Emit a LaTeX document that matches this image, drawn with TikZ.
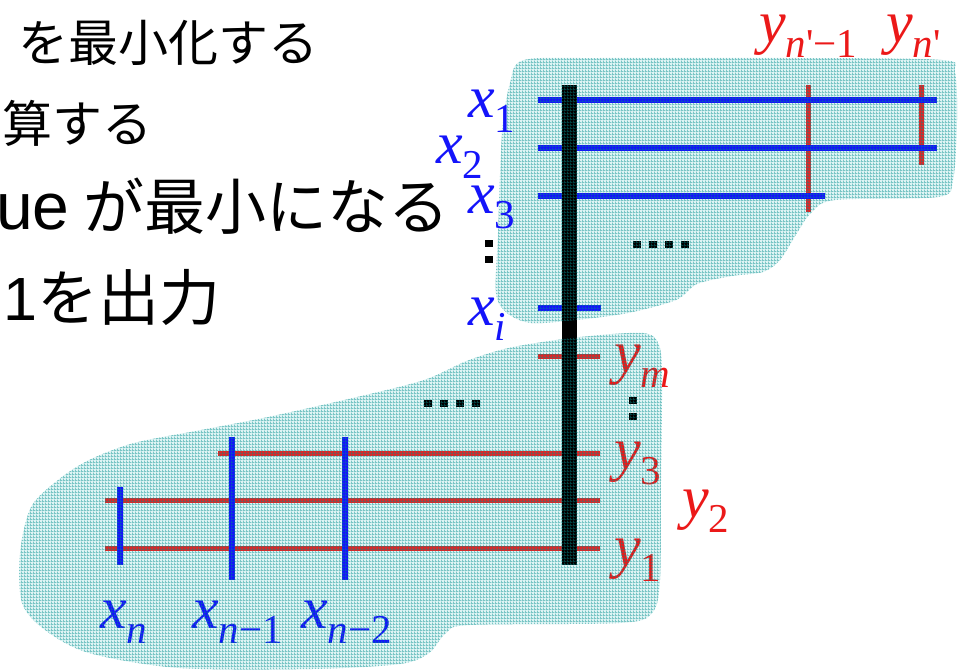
\documentclass[tikz,border=0pt]{standalone}
\usepackage{fontspec}
\setmainfont{Liberation Serif}
\newfontfamily\jpfont{Noto Sans CJK JP}
\newfontfamily\latinsans{Liberation Sans}
\usetikzlibrary{patterns.meta}

\definecolor{xblue}{RGB}{20,20,250}
\definecolor{yred}{RGB}{235,25,25}
\definecolor{wred}{RGB}{220,40,40}
\definecolor{meshbase}{RGB}{222,244,244}
\definecolor{meshline}{RGB}{0,140,140}

% fine teal mesh laid over both regions
\tikzdeclarepattern{
  name=mesh,
  type=uncolored,
  bottom left={(0pt,0pt)},
  top right={(3pt,3pt)},
  tile size={(3pt,3pt)},
  code={
    \fill (0pt,0pt) rectangle (3pt,1pt);
    \fill (0pt,0pt) rectangle (1pt,3pt);
  }
}

% variable with subscript
\newcommand{\sublab}[2]{\textit{#1}\raisebox{-15pt}{\fontsize{41}{41}\selectfont #2}}

\begin{document}
\begin{tikzpicture}[x=1pt,y=-1pt,
  lab/.style={anchor=base west,inner sep=0pt,font=\fontsize{60}{60}\selectfont},
  jtext/.style={anchor=base west,inner sep=0pt},
  xwire/.style={xblue,line width=6pt},
  ywire/.style={wred,line width=5pt},
  meshfill/.style={pattern=mesh,pattern color=meshline,fill opacity=0.45}]

\useasboundingbox (0,0) rectangle (963,669);

% Region outlines
\path[save path=\upperblob] plot[smooth cycle,tension=0.5] coordinates {
  (524,60) (600,58) (800,58) (942,60) (955,72) (957,120) (953,180)
  (938,197) (835,200) (811,213) (797,233) (780,260) (763,272) (732,276)
  (697,284) (676,300) (628,313) (576,320) (531,323) (507,313) (496,293)
  (498,233) (502,133) (510,83)};
\path[save path=\lowerblob] plot[smooth cycle,tension=0.5] coordinates {
  (643,333) (659,345) (662,380) (661,480) (660,580) (652,613) (620,623)
  (470,625) (446,633) (429,653) (400,664) (312,669) (179,668) (89,653)
  (45,630) (22,603) (20,553) (31,507) (58,480) (89,460) (134,443)
  (201,430) (268,417) (357,397) (424,380) (469,360) (513,347) (580,337)};

\fill[meshbase,use path=\upperblob];
\fill[meshbase,use path=\lowerblob];

% Upper region: red wires, then blue wires
\foreach \xx/\ye in {808/212,921/165}
  \draw[ywire] (\xx,85) -- (\xx,\ye);
\foreach \yy/\xe in {100/937,148/937,196/825,308/601}
  \draw[xwire] (538,\yy) -- (\xe,\yy);

% Lower region: red wires, then blue wires
\foreach \yy/\xs in {356/538,453/218,500/105,548/105}
  \draw[ywire] (\xs,\yy) -- (600,\yy);
\foreach \xx/\ys/\ye in {120/487/565,232/437/580,345/437/580}
  \draw[xwire] (\xx,\ys) -- (\xx,\ye);

% Shared bar
\fill (562,85) rectangle (577,565);

% Dots
\foreach \xx in {637,653,669,685}
  \fill (\xx-4,241) rectangle ++(8,7);
\foreach \xx in {428,444,460,476}
  \fill (\xx-4,400) rectangle ++(8,7);
\foreach \yy in {397,413}
  \fill (629,\yy) rectangle ++(8,7);

% Labels under the mesh
\node[lab,text=yred] (ym) at (614,372) {\sublab{y}{\textit{m}}};
\node[lab,text=yred] (y3) at (614,469) {\sublab{y}{3}};
\node[lab,text=yred] (y1) at (614,566) {\sublab{y}{1}};
\node[lab,text=xblue] (xn) at (100,628) {\sublab{x}{\textit{n}}};
\node[lab,text=xblue] (xn1) at (192,628) {\sublab{x}{\textit{n}−1}};
\node[lab,text=xblue] (xn2) at (301,628) {\sublab{x}{\textit{n}−2}};

% Mesh on top
\fill[meshfill,use path=\upperblob];
\fill[meshfill,use path=\lowerblob];

% Labels outside
\node[lab,text=xblue] (x1) at (468,117) {\sublab{x}{1}};
\node[lab,text=xblue] (x2) at (436,163) {\sublab{x}{2}};
\node[lab,text=xblue] (x3) at (468,213) {\sublab{x}{3}};
\node[lab,text=xblue] (xi) at (468,325) {\sublab{x}{\textit{i}}};
\foreach \yy in {240,256}
  \fill (485,\yy) rectangle ++(8,7);
\node[lab,text=yred] (ynp1) at (759,42) {\sublab{y}{\textit{n}\textquotesingle−1}};
\node[lab,text=yred] (ynp) at (886,42) {\sublab{y}{\textit{n}\textquotesingle}};
\node[lab,text=yred] (y2) at (682,517) {\sublab{y}{2}};

% Text lines
\node[jtext,font=\jpfont\fontsize{50}{50}\selectfont] (line1) at (18,62) {を最小化する};
\node[jtext,font=\jpfont\fontsize{50}{50}\selectfont] (line2) at (2,142) {算する};
\node[jtext,font=\jpfont\fontsize{61}{61}\selectfont] (line3) at (-4,229) {{\latinsans\fontsize{66}{66}\selectfont ue} が最小になる};
\node[jtext,font=\jpfont\fontsize{61}{61}\selectfont] (line4) at (3,320) {{\latinsans 1}を出力};

\end{tikzpicture}
\end{document}
